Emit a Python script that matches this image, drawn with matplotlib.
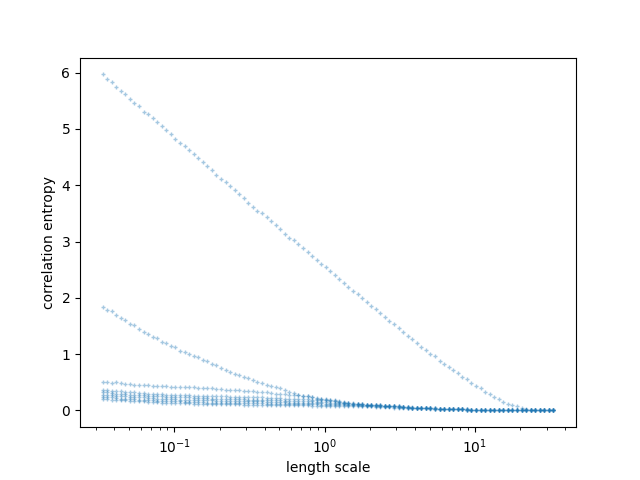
import numpy as np
import matplotlib
matplotlib.use("Agg")
import matplotlib.pyplot as plt

# length-scale sampling grid (100 log-spaced points)
x_min, x_max, n_points = 1/30, 100/3, 100
length_scale = np.geomspace(x_min, x_max, n_points)

zeros13 = [0.00] * 13

s1 = [5.97,5.88,5.83,5.74,5.67,5.62,5.53,5.47,5.40,5.31,
      5.26,5.19,5.12,5.05,4.98,4.91,4.83,4.76,4.69,4.62,
      4.55,4.48,4.41,4.34,4.27,4.19,4.12,4.05,3.98,3.91,
      3.84,3.77,3.69,3.62,3.55,3.50,3.43,3.36,3.29,3.22,
      3.14,3.07,3.02,2.95,2.88,2.81,2.74,
      2.67,2.61,2.54,
      2.47,2.40,2.34,2.27,2.20,2.13,2.07,2.00,1.93,1.86,
      1.80,1.73,1.66,1.59,1.53,1.46,
      1.39,1.33,1.26,1.20,
      1.13,1.08,1.01,0.96,0.88,0.83,0.78,0.72,0.67,0.60,
      0.55,0.49,0.44,0.39,0.33,0.30,0.24,0.21,0.15,0.12,
      0.10,0.07,0.05,0.03,0.01,
      0.01,0.01,0.00,0.00,0.00]

s2 = [1.83,1.79,1.76,1.69,1.65,1.60,1.54,1.51,1.45,1.40,
      1.35,1.31,1.28,1.22,1.19,1.15,1.12,1.06,1.04,1.01,
      0.97,0.94,0.90,0.87,0.83,0.80,0.76,0.72,0.69,0.65,
      0.63,0.60,0.57,0.54,0.51,0.48,0.46,0.43,0.41,0.39,
      0.36,0.33,0.31,0.28,
      0.25,0.25,0.24,0.21,0.21,0.19,0.18,0.17,0.15,0.14,0.13,0.12,0.11,
      0.11,0.10,0.10,0.09,0.09,0.08,0.08,0.07,0.07,0.06,
      0.06,0.05,0.05,0.05,0.04,0.04,0.04,0.03,0.03,0.03,
      0.02,0.02,0.02,0.02,0.01,0.01,0.01,0.01,0.01,0.00,
      0.00,0.00,0.00,0.00,0.00,0.00,0.00,0.00,0.00,0.00,
      0.00,0.00,0.00]

s3 = [0.50,0.50,0.49,0.50,0.49,0.47,0.47,0.46,0.46,0.45,
      0.45,0.44,0.44,0.43,0.43,0.42,0.42,0.42,0.41,0.41,
      0.41,0.40,0.40,0.39,0.39,0.38,0.38,0.37,0.37,0.36,
      0.36,0.35,0.35,0.34,0.33,0.33,0.32,0.31,0.30,0.30,
      0.29,0.28,0.28,0.27,0.26,0.25,0.24,0.22,0.21,0.20,
      0.19,0.18,0.16,0.15,0.14,0.13,0.12,0.11,0.10,0.10,
      0.09,0.09,0.08,0.08,0.07,0.07,0.06,0.06,0.05,0.05,
      0.05,0.04,0.04,0.04,0.03,0.03,0.03,0.02,0.02,0.02,
      0.02,0.01,0.01,0.01,0.01,0.01,0.00,0.00,0.00,0.00,
      0.00,0.00,0.00,0.00,0.00,0.00,0.00,0.00,0.00,0.00]

l1 = ([0.37,0.36,0.35,0.35,0.34,0.33,0.33,0.32,0.31,0.31,0.30,0.30,0.29,0.29,
       0.28,0.28,0.28,0.27,0.27,0.27,0.26,0.26,0.26,
       0.26,0.25,0.25,0.25,0.25,0.24,0.24,0.24,0.24,0.23,0.23,0.23,0.23,
       0.22,0.22,0.22,0.22,0.21,0.21,0.21,0.20,0.20,0.20,
       0.19,0.19,0.18,0.18,0.17,0.16,0.15,0.14,0.13,0.12,0.11,
       0.11,0.10,0.10,0.09,0.09,0.08,0.08,0.07,0.07,0.06,
       0.06,0.06,0.05,0.05,0.04,0.04,0.04,0.03,0.03,0.03,
       0.02,0.02,0.02,0.02,0.01,0.01,0.01,0.01,0.01,0.01] + zeros13)

l2 = ([0.33,0.32,0.31,0.30,0.30,0.29,0.28,0.28,0.27,0.27,0.26,0.26,0.25,0.25,
       0.24,0.24,0.24,0.23,0.23,0.23,0.22,0.22,0.22,
       0.22,0.21,0.21,0.21,0.21,0.20,0.20,0.20,0.20,0.19,0.19,0.19,0.19,
       0.18,0.18,0.18,0.18,0.17,0.17,0.17,0.17,0.16,0.16,
       0.16,0.15,0.15,0.15,0.14,0.14,0.13,0.13,0.12,0.11,0.11,
       0.10,0.10,0.09,0.09,0.08,0.08,0.07,0.07,0.06,0.06,
       0.06,0.05,0.05,0.05,0.04,0.04,0.03,0.03,0.03,0.02,
       0.02,0.02,0.02,0.01,0.01,0.01,0.01,0.01,0.00,0.00] + zeros13)

l3 = ([0.28,0.27,0.27,0.26,0.25,0.25,0.24,0.24,0.23,0.23,0.22,0.22,0.21,0.21,
       0.20,0.20,0.20,0.19,0.19,0.19,0.18,0.18,0.18,
       0.18,0.18,0.17,0.17,0.17,0.17,0.17,0.16,0.16,0.16,0.16,0.16,0.16,
       0.15,0.15,0.15,0.15,0.15,0.14,0.14,0.14,0.14,0.14,
       0.13,0.13,0.13,0.12,0.12,0.12,0.11,0.11,0.10,0.10,0.10,
       0.09,0.09,0.09,0.08,0.08,0.07,0.07,0.07,0.06,0.06,
       0.05,0.05,0.05,0.04,0.04,0.04,0.03,0.03,0.03,0.02,
       0.02,0.02,0.02,0.01,0.01,0.01,0.01,0.01,0.00,0.00] + zeros13)

l4 = ([0.24,0.23,0.23,0.22,0.21,0.21,0.20,0.20,0.19,0.19,0.18,0.18,0.17,0.17,
       0.17,0.16,0.16,0.16,0.15,0.15,0.15,0.15,0.15,
       0.14,0.14,0.14,0.14,0.14,0.14,0.13,0.13,0.13,0.13,0.13,0.13,0.13,
       0.12,0.12,0.12,0.12,0.12,0.12,0.12,0.11,0.11,0.11,
       0.11,0.11,0.10,0.10,0.10,0.10,0.10,0.09,0.09,0.09,0.09,
       0.08,0.08,0.08,0.08,0.07,0.07,0.07,0.06,0.06,0.06,
       0.05,0.05,0.05,0.04,0.04,0.04,0.03,0.03,0.03,0.02,
       0.02,0.02,0.02,0.01,0.01,0.01,0.01,0.01,0.00,0.00] + zeros13)

l5 = ([0.20,0.20,0.19,0.19,0.18,0.18,0.17,0.17,0.16,0.16,0.15,0.15,0.15,0.14,
       0.14,0.14,0.13,0.13,0.13,0.13,0.12,0.12,0.12,
       0.12,0.12,0.11,0.11,0.11,0.11,0.11,0.11,0.10,0.10,0.10,0.10,0.10,
       0.10,0.10,0.10,0.09,0.09,0.09,0.09,0.09,0.09,0.09,
       0.08,0.08,0.08,0.08,0.08,0.08,0.08,0.07,0.07,0.07,0.07,
       0.07,0.07,0.07,0.06,0.06,0.06,0.06,0.05,0.05,0.05,
       0.05,0.04,0.04,0.04,0.04,0.03,0.03,0.03,0.03,0.02,
       0.02,0.02,0.02,0.01,0.01,0.01,0.01,0.01,0.00,0.00] + zeros13)

series = [s1, s2, s3, l1, l2, l3, l4, l5]

fig, ax = plt.subplots(figsize=(6.4, 4.8), dpi=100)
for ys in series:
    ax.plot(length_scale, ys, '+', color='C0', alpha=0.4,
            markersize=3, markeredgewidth=1)
ax.set_xscale('log')
ax.set_xlabel('length scale')
ax.set_ylabel('correlation entropy')
fig.savefig('out.png')
